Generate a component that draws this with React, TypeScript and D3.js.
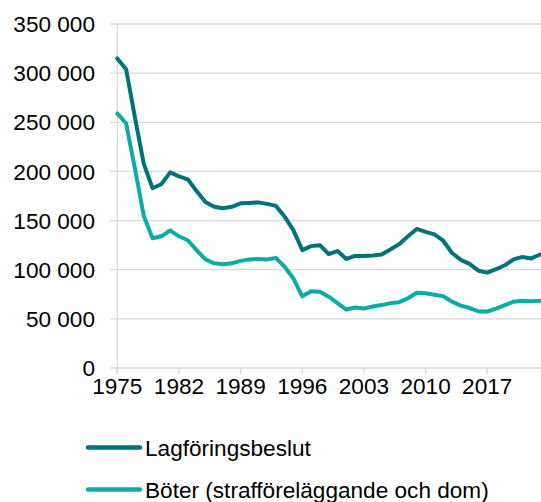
import React from "react";
import * as d3 from "d3";

const years: number[] = d3.range(1975, 2024);
const lagforingsbeslut: number[] = [
  315000, 304000, 255000, 208000, 183000, 187000, 199000, 195000, 192000, 180000,
  169000, 164000, 162500, 164000, 167500, 168000, 168500, 167000, 165000, 154000,
  140000, 120000, 124000, 125000, 116000, 119000, 111000, 114000, 114000, 114500,
  115500, 120500, 126000, 134000, 141500, 138500, 136000, 129500, 117000, 110000,
  106000, 99000, 97000, 100500, 104500, 110500, 113000, 111500, 115500,
];
const boter: number[] = [
  259000, 249000, 203000, 155000, 132000, 134000, 140000, 134000, 130000, 120000,
  110500, 106500, 105500, 106500, 109000, 110500, 111000, 110500, 112000, 103000,
  91000, 73000, 78000, 77500, 72500, 66000, 59500, 61500, 60500, 62500,
  64000, 66000, 67000, 71000, 76500, 76000, 74500, 73000, 67500, 63500,
  61000, 57500, 57500, 60500, 64000, 67500, 68500, 68000, 68500,
];
const seriesNames: string[] = ["Lagföringsbeslut", "Böter (strafföreläggande och dom)"];
const seriesColors: string[] = ["#00737A", "#0BABA6"];
const yTicks: number[] = [0, 50000, 100000, 150000, 200000, 250000, 300000, 350000];
const xTicks: number[] = [1975, 1982, 1989, 1996, 2003, 2010, 2017];

const W = 541;
const H = 502;

export default function App() {
  const x = d3.scaleLinear().domain([1975, 2023]).range([117.3, 540.1]);
  const y = d3.scaleLinear().domain([0, 350000]).range([368, 24]);
  const fmt = d3.formatLocale({ decimal: ",", thousands: " ", grouping: [3], currency: ["", ""] }).format(",d");
  const line = d3
    .line<number>()
    .x((_, i) => x(years[i]))
    .y((d) => y(d))
    .curve(d3.curveLinear);
  const series = [lagforingsbeslut, boter];
  const font = "'Liberation Sans', Arial, sans-serif";
  const fs = 22.6;
  return (
    <svg
      width={W}
      height={H}
      style={{ position: "absolute", left: 0, top: 0, background: "#fff" }}
      fontFamily={font}
    >
      <defs>
        <clipPath id="clip">
          <rect x={0} y={0} width={W} height={H} />
        </clipPath>
      </defs>
      {yTicks.map((t) => (
        <g key={t}>
          {t > 0 && (
            <line x1={110} x2={W} y1={y(t)} y2={y(t)} stroke="#d9d9d9" strokeWidth={1.3} />
          )}
          <text x={95} y={y(t)} dy="0.36em" textAnchor="end" fontSize={fs} fill="#000">
            {fmt(t)}
          </text>
        </g>
      ))}
      <line x1={110} x2={W} y1={y(0)} y2={y(0)} stroke="#d9d9d9" strokeWidth={1.3} />
      <line x1={x(1975)} x2={x(1975)} y1={y(350000)} y2={y(0) + 6} stroke="#d9d9d9" strokeWidth={1.3} />
      {xTicks.map((t) => (
        <g key={t}>
          <line x1={x(t)} x2={x(t)} y1={y(0)} y2={y(0) + 6} stroke="#d9d9d9" strokeWidth={1.3} />
          <text x={x(t)} y={394} textAnchor="middle" fontSize={fs} fill="#000">
            {t}
          </text>
        </g>
      ))}
      <g clipPath="url(#clip)">
        {series.map((s, i) => (
          <path
            key={i}
            d={line(s) || ""}
            fill="none"
            stroke={seriesColors[i]}
            strokeWidth={4}
            strokeLinejoin="round"
            strokeLinecap="round"
          />
        ))}
      </g>
      {seriesNames.map((n, i) => {
        const ly = [447.5, 489.5][i];
        return (
          <g key={n}>
            <line x1={88} x2={140} y1={ly} y2={ly} stroke={seriesColors[i]} strokeWidth={4.5} strokeLinecap="round" />
            <text x={145} y={ly + 8} fontSize={fs} fill="#000">
              {n}
            </text>
          </g>
        );
      })}
    </svg>
  );
}
